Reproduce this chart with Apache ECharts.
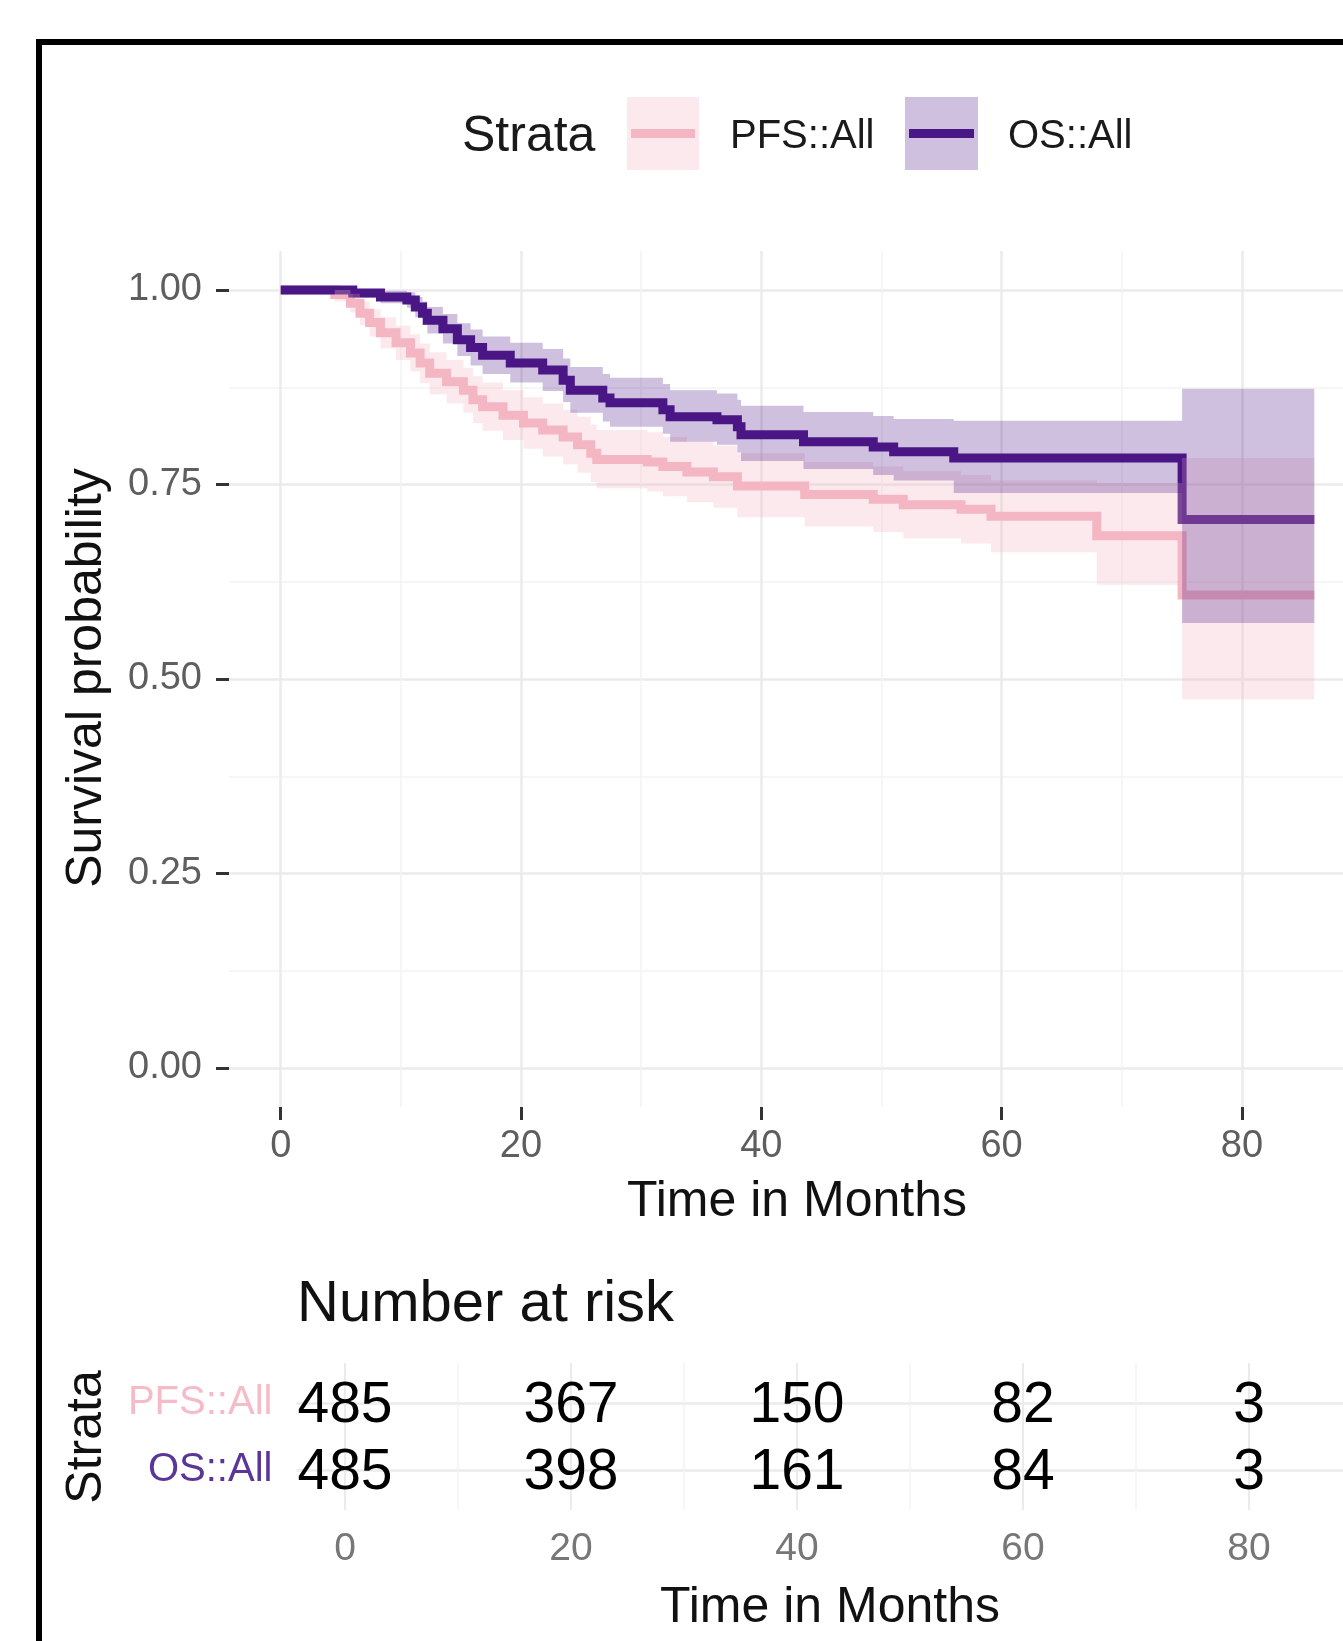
<!DOCTYPE html>
<html><head><meta charset="utf-8">
<script src="https://cdn.jsdelivr.net/npm/echarts@6/dist/echarts.min.js"></script>
<style>html,body{margin:0;padding:0;background:#fff}#c{width:1343px;height:1641px}</style>
</head><body><div id="c"></div>
<script>
// ---------- data ----------
const strataNames = ['PFS::All', 'OS::All'];

const pfsTime  = [0, 4.5, 5.8, 6.6, 7.4, 8.3, 9.6, 10.8, 11.6, 12.4, 13.8, 15.2, 16.0, 16.8, 18.5, 20.2, 21.8, 23.5, 24.7, 25.8, 26.3, 30.5, 31.8, 33.8, 36.0, 38.0, 43.6, 49.3, 51.8, 56.6, 59.1, 67.9, 75.0, 86.0];
const pfsSurv  = [1, .994, .983, .970, .958, .945, .932, .919, .906, .893, .882, .871, .859, .850, .839, .829, .820, .811, .801, .790, .782, .779, .773, .766, .760, .748, .737, .731, .724, .718, .709, .684, .608, .608];
const pfsLower = [1, .985, .971, .955, .940, .925, .910, .895, .880, .866, .854, .842, .829, .819, .807, .796, .786, .776, .765, .753, .745, .741, .735, .727, .720, .708, .696, .689, .681, .674, .663, .621, .474, .474];
const pfsUpper = [1, 1.00, .995, .985, .975, .965, .954, .943, .931, .920, .910, .900, .889, .881, .871, .862, .854, .846, .837, .827, .820, .817, .811, .805, .800, .790, .779, .773, .767, .762, .755, .752, .784, .784];

const osTime  = [0, 6.0, 8.3, 10.5, 11.2, 11.8, 12.2, 13.5, 14.7, 15.8, 16.8, 19.1, 21.8, 23.5, 24.1, 26.8, 27.4, 31.8, 32.4, 36.3, 38.0, 38.3, 43.5, 49.3, 51.0, 56.0, 75.0, 86.0];
const osSurv  = [1, .996, .991, .987, .978, .970, .961, .950, .936, .926, .916, .906, .897, .884, .871, .861, .855, .846, .837, .833, .824, .814, .805, .798, .792, .784, .705, .705];
const osLower = [1, .990, .983, .977, .965, .955, .944, .931, .915, .903, .892, .881, .870, .856, .842, .831, .824, .815, .805, .801, .791, .780, .770, .762, .755, .739, .572, .572];
const osUpper = [1, 1.00, .999, .997, .991, .985, .978, .969, .957, .949, .940, .932, .924, .912, .901, .892, .887, .879, .871, .867, .859, .851, .843, .838, .834, .832, .873, .873];

const riskTimes = [0, 20, 40, 60, 80];
const pfsRisk = [485, 367, 150, 82, 3];
const osRisk  = [485, 398, 161, 84, 3];

// ---------- style ----------
const FONT = 'Liberation Sans, Arial, Helvetica, sans-serif';
const PFS_COLOR = '#F4B6C2';
const OS_COLOR = '#4A1786';
const GRID_MAJOR = '#EBEBEB';
const GRID_MINOR = '#F3F3F3';

function ribbon(times, lo, hi, color, opacity, z) {
  return {
    type: 'custom', xAxisIndex: 2, yAxisIndex: 2, z: z, silent: true,
    data: times.map((t, i) => [t, lo[i], hi[i]]),
    encode: { x: 0, y: [1, 2] },
    renderItem: function (params, api) {
      if (params.dataIndex !== 0) return null;
      const up = [], dn = [];
      for (let i = 0; i < times.length; i++) {
        const t0 = times[i];
        const t1 = i < times.length - 1 ? times[i + 1] : times[i];
        up.push(api.coord([t0, hi[i]]), api.coord([t1, hi[i]]));
        dn.push(api.coord([t0, lo[i]]), api.coord([t1, lo[i]]));
      }
      return { type: 'polygon', shape: { points: up.concat(dn.reverse()) },
               style: { fill: color, opacity: opacity } };
    }
  };
}

function stepLine(times, surv, color, z) {
  return {
    type: 'line', xAxisIndex: 2, yAxisIndex: 2, z: z, step: 'end', symbol: 'none',
    silent: true, animation: false,
    data: times.map((t, i) => [t, surv[i]]),
    lineStyle: { color: color, width: 9, join: 'miter' }
  };
}

function riskSeries(name, counts) {
  return {
    type: 'scatter', xAxisIndex: 4, yAxisIndex: 4, symbolSize: 0, z: 3, silent: true,
    data: riskTimes.map((t, i) => [t, name, counts[i]]),
    label: { show: true, position: 'inside', offset: [0, 3], formatter: p => String(p.value[2]),
             fontSize: 57, fontFamily: FONT, color: '#000', textBorderWidth: 0, opacity: 1 }
  };
}

const txt = (text, x, y, size, color, align, rot) => ({
  type: 'text', x: x, y: y, rotation: rot || 0, z: 20,
  style: { text: text, fontSize: size, fontFamily: FONT, fill: color,
           align: align, textAlign: align, verticalAlign: 'middle', textVerticalAlign: 'middle' }
});

const chart = echarts.init(document.getElementById('c'), null, { renderer: 'canvas' });
chart.setOption({
  backgroundColor: '#ffffff',
  animation: false,
  grid: [
    { left: 280.7, top: 251, width: 961.2, height: 856, outerBoundsMode: 'none' },
    { left: 229, top: 290, width: 1137, height: 778, outerBoundsMode: 'none' },
    { left: 229, top: 251, width: 1137, height: 856, outerBoundsMode: 'none' },
    { left: 345, top: 1363, width: 904, height: 147, outerBoundsMode: 'none' },
    { left: 296.4, top: 1403, width: 1069, height: 67, outerBoundsMode: 'none' }
  ],
  xAxis: [
    { gridIndex: 0, type: 'value', min: 0, max: 80, interval: 20,
      axisLine: { show: false },
      axisTick: { show: true, length: 13, lineStyle: { color: '#333', width: 3 } },
      axisLabel: { fontSize: 38, fontFamily: FONT, color: '#5e5e5e', margin: 21 },
      splitLine: { show: true, lineStyle: { color: GRID_MAJOR, width: 2.5 } },
      minorTick: { show: false, splitNumber: 2 },
      minorSplitLine: { show: true, lineStyle: { color: GRID_MINOR, width: 1.5 } } },
    { gridIndex: 1, type: 'value', min: 0, max: 1, show: false },
    { gridIndex: 2, type: 'value', min: -4.3, max: 90.3, show: false },
    { gridIndex: 3, type: 'value', min: 0, max: 80, interval: 20,
      axisLine: { show: false }, axisTick: { show: false },
      axisLabel: { fontSize: 39, fontFamily: FONT, color: '#777', margin: 20 },
      splitLine: { show: true, lineStyle: { color: GRID_MAJOR, width: 2 } },
      minorTick: { show: false, splitNumber: 2 },
      minorSplitLine: { show: true, lineStyle: { color: GRID_MINOR, width: 1.5 } } },
    { gridIndex: 4, type: 'value', min: -4.3, max: 90.3, show: false }
  ],
  yAxis: [
    { gridIndex: 0, type: 'value', min: 0, max: 1, show: false },
    { gridIndex: 1, type: 'value', min: 0, max: 1, interval: 0.25,
      axisLine: { show: false },
      axisTick: { show: true, length: 13, lineStyle: { color: '#333', width: 3 } },
      axisLabel: { fontSize: 38, fontFamily: FONT, color: '#5e5e5e', margin: 27,
                   padding: [4, 0, 0, 0], formatter: v => v.toFixed(2) },
      splitLine: { show: true, lineStyle: { color: GRID_MAJOR, width: 2.5 } },
      minorTick: { show: false, splitNumber: 2 },
      minorSplitLine: { show: true, lineStyle: { color: GRID_MINOR, width: 1.5 } } },
    { gridIndex: 2, type: 'value', min: -0.05, max: 1.05, show: false },
    { gridIndex: 3, type: 'value', min: 0, max: 1, show: false },
    { gridIndex: 4, type: 'category', data: [strataNames[1], strataNames[0]], boundaryGap: false,
      axisLine: { show: false }, axisTick: { show: false },
      axisLabel: { fontSize: 40, fontFamily: FONT, margin: 24, padding: [2, 0, 0, 0],
                   color: v => (v === strataNames[0] ? '#F5BCC8' : '#5B3597') },
      splitLine: { show: true, lineStyle: { color: GRID_MAJOR, width: 2.5 } } }
  ],
  series: [
    stepLine(pfsTime, pfsSurv, PFS_COLOR, 2),
    stepLine(osTime, osSurv, OS_COLOR, 3),
    ribbon(pfsTime, pfsLower, pfsUpper, PFS_COLOR, 0.3, 4),
    ribbon(osTime, osLower, osUpper, OS_COLOR, 0.27, 5),
    riskSeries(strataNames[0], pfsRisk),
    riskSeries(strataNames[1], osRisk)
  ],
  graphic: [
    { type: 'rect', z: 30, shape: { x: 39, y: 42, width: 1400, height: 1700 },
      style: { fill: 'none', stroke: '#000', lineWidth: 6 } },
    // legend
    txt('Strata', 462, 137, 50, '#1a1a1a', 'left'),
    { type: 'rect', z: 20, shape: { x: 627, y: 97, width: 72, height: 73 },
      style: { fill: PFS_COLOR, opacity: 0.3 } },
    { type: 'line', z: 21, shape: { x1: 631, y1: 133.5, x2: 695, y2: 133.5 },
      style: { stroke: PFS_COLOR, lineWidth: 9 } },
    txt(strataNames[0], 730, 137, 40, '#1a1a1a', 'left'),
    { type: 'rect', z: 20, shape: { x: 905, y: 97, width: 73, height: 73 },
      style: { fill: OS_COLOR, opacity: 0.27 } },
    { type: 'line', z: 21, shape: { x1: 909, y1: 133.5, x2: 974, y2: 133.5 },
      style: { stroke: OS_COLOR, lineWidth: 9 } },
    txt(strataNames[1], 1008, 137, 40, '#1a1a1a', 'left'),
    // axis titles
    txt('Time in Months', 797, 1202, 50, '#111', 'center'),
    txt('Survival probability', 87, 678, 50, '#111', 'center', Math.PI / 2),
    txt('Number at risk', 297, 1305, 58, '#111', 'left'),
    txt('Strata', 87, 1437, 50, '#111', 'center', Math.PI / 2),
    txt('Time in Months', 830, 1608, 50, '#111', 'center')
  ]
});
</script>
</body></html>
